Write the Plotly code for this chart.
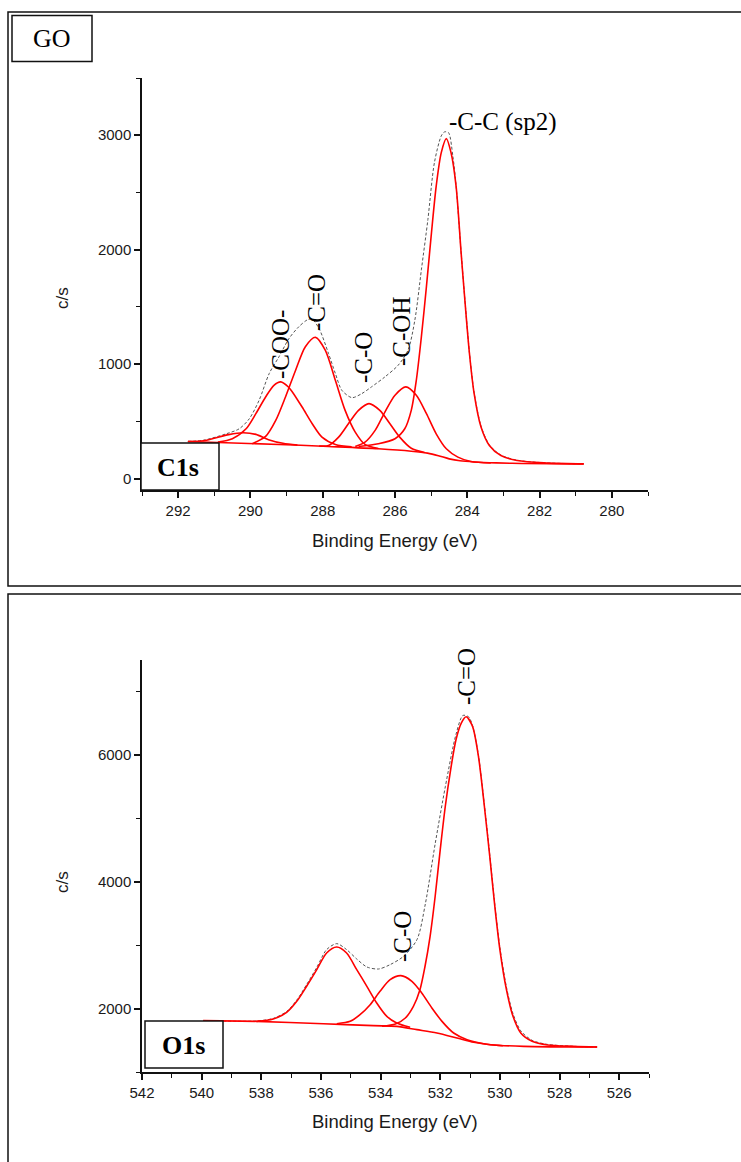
import plotly.graph_objects as go

W, H = 741, 1162

# ---------------- C1s region (GO) ----------------
c1s_bg_E = [291.73, 289.21, 287.84, 286.46, 285.55, 285.1, 284.8, 284.5, 284.2, 283.8, 283.2, 282.5, 280.78]
c1s_bg_I = [324, 298, 280, 260, 239, 222, 200, 172, 155, 145, 137, 132, 128]

c1s_pipi_E = [291.73, 291.3, 291.0, 290.6, 290.2, 289.85, 289.5, 289.1, 288.7]
c1s_pipi_I = [324, 330, 352, 384, 400, 386, 340, 308, 292]

c1s_coo_E = [290.9, 290.5, 290.12, 289.85, 289.58, 289.35, 289.16, 288.95, 288.84, 288.57, 288.29, 288.02, 287.65, 287.2]
c1s_coo_I = [318, 348, 435, 567, 713, 815, 845, 800, 757, 625, 479, 362, 298, 278]

c1s_cdo_E = [289.95, 289.58, 289.3, 289.03, 288.75, 288.48, 288.2, 287.93, 287.65, 287.38, 287.1, 286.83, 286.46]
c1s_cdo_I = [305, 368, 508, 713, 947, 1152, 1234, 1122, 859, 596, 406, 298, 262]

c1s_co_E = [288.1, 287.84, 287.56, 287.29, 287.01, 286.72, 286.42, 286.14, 285.87, 285.55, 285.18]
c1s_co_I = [285, 289, 362, 479, 596, 655, 596, 479, 362, 265, 228]

c1s_coh_E = [287.1, 286.83, 286.55, 286.28, 286.0, 285.7, 285.41, 285.13, 284.86, 284.58, 284.26, 283.9, 283.35]
c1s_coh_I = [280, 318, 421, 581, 728, 801, 728, 567, 391, 260, 187, 149, 136]

c1s_sp2_E = [287.01, 286.46, 286.0, 285.73, 285.55, 285.41, 285.27, 285.13, 285.0, 284.86, 284.72, 284.58,
             284.45, 284.31, 284.17, 284.06, 283.94, 283.81, 283.62, 283.39, 283.07, 282.62, 281.88, 280.78]
c1s_sp2_I = [280, 304, 348, 435, 596, 859, 1239, 1678, 2117, 2555, 2848, 2970,
             2848, 2555, 1970, 1532, 1093, 742, 450, 289, 201, 158, 137, 128]

c1s_env_E = [291.73, 291.3, 290.67, 290.31, 290.03, 289.76, 289.48, 289.21, 288.93, 288.66, 288.43, 288.3,
             288.1, 287.84, 287.65, 287.47, 287.19, 286.92, 286.65, 286.28, 285.91, 285.64, 285.45, 285.27,
             285.09, 284.91, 284.72, 284.63, 284.52, 284.4, 284.31, 284.17, 284.06, 283.94, 283.81, 283.62,
             283.39, 283.07, 282.62, 281.88, 280.78]
c1s_env_I = [324, 335, 391, 435, 523, 684, 918, 1064, 1225, 1327, 1386, 1395,
             1310, 1093, 918, 771, 707, 742, 801, 888, 991, 1122, 1386, 1824,
             2263, 2760, 2994, 3029, 3023, 2818, 2560, 1975, 1540, 1100, 750, 458,
             295, 205, 160, 138, 128]

# ---------------- O1s region ----------------
o1s_bg_E = [539.95, 538.16, 535.92, 534.24, 533.46, 532.78, 532.11, 531.44, 530.88, 530.32, 529.2, 526.74]
o1s_bg_I = [1810, 1799, 1762, 1731, 1720, 1668, 1615, 1536, 1468, 1431, 1405, 1394]

o1s_p1_E = [538.16, 537.6, 537.15, 536.81, 536.48, 536.14, 535.81, 535.47, 535.14, 534.8, 534.46, 534.13, 533.79, 533.46, 533.01]
o1s_p1_I = [1799, 1836, 1941, 2115, 2352, 2615, 2878, 2973, 2878, 2615, 2352, 2089, 1878, 1773, 1705]

o1s_co_E = [535.47, 535.02, 534.69, 534.35, 534.02, 533.68, 533.32, 532.95, 532.62, 532.28, 531.94, 531.55, 531.1, 530.54, 529.9]
o1s_co_I = [1762, 1799, 1905, 2062, 2273, 2457, 2520, 2431, 2247, 2010, 1799, 1615, 1510, 1447, 1415]

o1s_cdo_E = [533.95, 533.5, 533.17, 532.9, 532.68, 532.51, 532.34, 532.17, 532.0, 531.83, 531.65, 531.47, 531.29, 531.13,
             530.92, 530.72, 530.52, 530.34, 530.17, 530.0, 529.78, 529.56, 529.3, 528.92, 528.4, 527.52, 526.74]
o1s_cdo_I = [1722, 1757, 1852, 2036, 2299, 2668, 3141, 3773, 4509, 5193, 5772, 6246, 6509, 6604,
             6456, 5983, 5193, 4404, 3615, 2931, 2299, 1878, 1615, 1484, 1426, 1405, 1394]

o1s_env_E = [539.95, 538.16, 537.6, 537.15, 536.81, 536.48, 536.14, 535.81, 535.47, 535.14, 534.8, 534.46, 534.07,
             533.68, 533.23, 532.78, 532.5, 532.17, 531.83, 531.47, 531.24, 531.05, 530.92, 530.72, 530.52, 530.34,
             530.17, 530.0, 529.78, 529.56, 529.3, 528.92, 528.4, 527.52, 526.74]
o1s_env_I = [1810, 1805, 1845, 1955, 2135, 2380, 2650, 2931, 3025, 2931, 2783, 2657, 2625,
             2694, 2825, 3089, 3650, 4600, 5500, 6330, 6625, 6604, 6470, 6000, 5215, 4430,
             3645, 2965, 2340, 1920, 1650, 1500, 1435, 1405, 1394]

# tick values
c1s_xticks = [292, 290, 288, 286, 284, 282, 280]
c1s_yticks = [0, 1000, 2000, 3000]
o1s_xticks = [542, 540, 538, 536, 534, 532, 530, 528, 526]
o1s_yticks = [2000, 4000, 6000]

RED = "#ff0000"
ENV = "#555555"
SANS = "Liberation Sans, Arial, sans-serif"
SERIF = "Liberation Serif, Times New Roman, serif"


def px(x):
    return x / W


def py(y):
    return 1 - y / H


fig = go.Figure()


def add_panel(xa, ya, env, bg, peaks):
    fig.add_trace(go.Scatter(x=env[0], y=env[1], mode="lines", xaxis=xa, yaxis=ya,
                             line=dict(color=ENV, width=1, dash="3px,2px", shape="spline", smoothing=0.8),
                             hoverinfo="skip", showlegend=False))
    fig.add_trace(go.Scatter(x=bg[0], y=bg[1], mode="lines", xaxis=xa, yaxis=ya,
                             line=dict(color=RED, width=1.6, shape="spline", smoothing=0.8),
                             hoverinfo="skip", showlegend=False))
    for e, i in peaks:
        fig.add_trace(go.Scatter(x=e, y=i, mode="lines", xaxis=xa, yaxis=ya,
                                 line=dict(color=RED, width=1.6, shape="spline", smoothing=0.8),
                                 hoverinfo="skip", showlegend=False))


add_panel("x", "y", (c1s_env_E, c1s_env_I), (c1s_bg_E, c1s_bg_I),
          [(c1s_pipi_E, c1s_pipi_I), (c1s_coo_E, c1s_coo_I), (c1s_cdo_E, c1s_cdo_I),
           (c1s_co_E, c1s_co_I), (c1s_coh_E, c1s_coh_I), (c1s_sp2_E, c1s_sp2_I)])
add_panel("x2", "y2", (o1s_env_E, o1s_env_I), (o1s_bg_E, o1s_bg_I),
          [(o1s_p1_E, o1s_p1_I), (o1s_co_E, o1s_co_I), (o1s_cdo_E, o1s_cdo_I)])

axis_common = dict(showline=True, linecolor="#111111", linewidth=1.5, ticks="outside", ticklen=6,
                   tickwidth=1.5, tickcolor="#111111", showgrid=False, zeroline=False, automargin=False,
                   tickfont=dict(family=SANS, size=15, color="#1a1a1a"), mirror=False)
minor_common = dict(ticks="outside", ticklen=4, tickwidth=1.3, tickcolor="#111111", showgrid=False)

fig.update_layout(
    width=W, height=H, margin=dict(l=0, r=0, t=0, b=0, pad=0, autoexpand=False),
    paper_bgcolor="white", plot_bgcolor="white", showlegend=False,
    xaxis=dict(domain=[px(142), px(648)], range=[293, 279], tickvals=c1s_xticks, anchor="y",
               minor=dict(dtick=1, **minor_common), **axis_common),
    yaxis=dict(domain=[py(490), py(78)], range=[-100, 3500], tickvals=c1s_yticks, anchor="x",
               tickformat="d", minor=dict(dtick=500, **minor_common), **axis_common),
    xaxis2=dict(domain=[px(142), px(649)], range=[542, 525], tickvals=o1s_xticks, anchor="y2",
                minor=dict(dtick=1, **minor_common), **axis_common),
    yaxis2=dict(domain=[py(1072), py(660)], range=[1000, 7500], tickvals=o1s_yticks, anchor="x2",
                tickformat="d", minor=dict(dtick=1000, **minor_common), **axis_common),
)

shapes = [
    # panel frames
    dict(type="rect", xref="paper", yref="paper", x0=px(8), x1=px(745), y0=py(12), y1=py(586),
         line=dict(color="#111111", width=1.5), layer="below"),
    dict(type="rect", xref="paper", yref="paper", x0=px(8), x1=px(745), y0=py(594), y1=py(1166),
         line=dict(color="#111111", width=1.5), layer="below"),
    # label boxes
    dict(type="rect", xref="paper", yref="paper", x0=px(12), x1=px(92), y0=py(15.5), y1=py(61.5),
         line=dict(color="#111111", width=1.5), fillcolor="white", layer="above"),
    dict(type="rect", xref="paper", yref="paper", x0=px(141), x1=px(219), y0=py(443), y1=py(490),
         line=dict(color="#111111", width=1.5), fillcolor="white", layer="above"),
    dict(type="rect", xref="paper", yref="paper", x0=px(145), x1=px(223), y0=py(1021), y1=py(1068),
         line=dict(color="#111111", width=1.5), fillcolor="white", layer="above"),
]
fig.update_layout(shapes=shapes)


def note(text, x, y, size=25, angle=0, family=SERIF, color="black"):
    fig.add_annotation(text=text, x=px(x), y=py(y), xref="paper", yref="paper", showarrow=False,
                       xanchor="center", yanchor="middle", textangle=angle,
                       font=dict(family=family, size=size, color=color))


note("GO", 52, 39, size=26)
note("<b>C1s</b>", 178, 467, size=26)
note("<b>O1s</b>", 183, 1045, size=26)

# peak assignments
note("-C-C (sp2)", 503, 122, size=25)
note("-COO-", 280, 345, size=25, angle=-90)
note("-C=O", 317, 303, size=25, angle=-90)
note("-C-O", 363, 358, size=25, angle=-90)
note("-C-OH", 401, 332, size=25, angle=-90)
note("-C=O", 466, 677, size=25, angle=-90)
note("-C-O", 402, 937, size=25, angle=-90)

# axis titles
note("Binding Energy (eV)", 395, 540, size=18.5, family=SANS, color="#1a1a1a")
note("Binding Energy (eV)", 395, 1121, size=18.5, family=SANS, color="#1a1a1a")
note("c/s", 62, 298, size=17, angle=-90, family=SANS, color="#1a1a1a")
note("c/s", 62, 882, size=17, angle=-90, family=SANS, color="#1a1a1a")

fig.write_html("out.html")
